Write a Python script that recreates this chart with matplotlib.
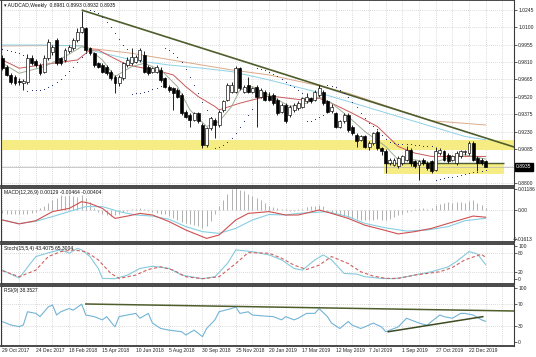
import numpy as np
import matplotlib.pyplot as plt
from matplotlib.transforms import blended_transform_factory, ScaledTranslation

plt.rcParams['font.family'] = ['Liberation Sans', 'DejaVu Sans']

# ---- weekly AUDCAD candles, 29 Oct 2017 .. Jan 2020
opens = [0.9842,0.9772,0.9703,0.9689,0.9655,0.9635,0.9647,0.9842,0.9820,0.9786,
         0.9730,0.9842,0.9895,0.9995,0.9842,0.9828,0.9900,0.9925,0.9995,1.0064,
         1.0092,0.9925,0.9884,0.9800,0.9786,0.9772,0.9731,0.9689,0.9633,0.9675,
         0.9786,0.9800,0.9814,0.9828,0.9870,0.9772,0.9731,0.9731,0.9745,0.9675,
         0.9606,0.9592,0.9578,0.9536,0.9397,0.9369,0.9328,0.9383,0.9286,0.9119,
         0.9258,0.9328,0.9286,0.9411,0.9494,0.9564,0.9564,0.9759,0.9564,0.9620,
         0.9564,0.9606,0.9522,0.9564,0.9530,0.9536,0.9494,0.9397,0.9453,0.9369,
         0.9411,0.9425,0.9439,0.9481,0.9508,0.9494,0.9536,0.9564,0.9481,0.9400,
         0.9383,0.9272,0.9314,0.9369,0.9272,0.9203,0.9161,0.9189,0.9105,0.9133,
         0.9230,0.9091,0.9064,0.8966,0.8952,0.8938,0.8966,0.8994,0.9077,0.8980,
         0.8952,0.8994,0.8966,0.8980,0.8911,0.9050,0.9064,0.9036,0.8994,0.8966,
         0.9022,0.9055,0.9050,0.9133,0.9008,0.8994,0.8981]
highs = [0.9870,0.9790,0.9717,0.9700,0.9680,0.9670,0.9880,0.9870,0.9840,0.9800,
         0.9870,1.0000,0.9950,1.0010,0.9856,0.9925,0.9950,1.0010,1.0092,1.0240,
         1.0106,0.9939,0.9898,0.9814,0.9800,0.9786,0.9745,0.9703,0.9703,0.9814,
         0.9856,0.9925,0.9870,0.9925,0.9900,0.9786,0.9772,0.9786,0.9772,0.9689,
         0.9620,0.9606,0.9592,0.9550,0.9411,0.9383,0.9397,0.9397,0.9300,0.9272,
         0.9355,0.9342,0.9411,0.9494,0.9633,0.9647,0.9775,0.9772,0.9620,0.9689,
         0.9606,0.9620,0.9592,0.9578,0.9564,0.9550,0.9508,0.9467,0.9467,0.9453,
         0.9467,0.9481,0.9522,0.9550,0.9522,0.9578,0.9620,0.9578,0.9494,0.9460,
         0.9397,0.9328,0.9383,0.9383,0.9286,0.9216,0.9203,0.9203,0.9147,0.9230,
         0.9240,0.9105,0.9080,0.9008,0.9008,0.9022,0.9036,0.9110,0.9091,0.8994,
         0.8994,0.9008,0.8980,0.8994,0.9105,0.9091,0.9077,0.9050,0.9036,0.9064,
         0.9077,0.9077,0.9147,0.9147,0.9022,0.9008,0.8993]
lows = [0.9745,0.9690,0.9630,0.9620,0.9615,0.9578,0.9630,0.9790,0.9770,0.9705,
        0.9717,0.9828,0.9870,0.9790,0.9786,0.9814,0.9884,0.9911,0.9981,1.0050,
        0.9898,0.9870,0.9772,0.9759,0.9717,0.9703,0.9661,0.9550,0.9610,0.9661,
        0.9772,0.9786,0.9800,0.9814,0.9717,0.9703,0.9717,0.9717,0.9647,0.9592,
        0.9564,0.9411,0.9508,0.9369,0.9342,0.9272,0.9314,0.9300,0.9091,0.9105,
        0.9244,0.9175,0.9272,0.9397,0.9481,0.9550,0.9550,0.9578,0.9550,0.9550,
        0.9550,0.9272,0.9508,0.9481,0.9481,0.9453,0.9369,0.9383,0.9300,0.9355,
        0.9397,0.9411,0.9425,0.9467,0.9467,0.9481,0.9522,0.9453,0.9383,0.9383,
        0.9258,0.9258,0.9300,0.9230,0.9203,0.9105,0.9147,0.9091,0.9077,0.9119,
        0.9077,0.9036,0.8883,0.8952,0.8938,0.8925,0.8952,0.8980,0.8938,0.8925,
        0.8827,0.8952,0.8911,0.8883,0.8897,0.9036,0.8980,0.8966,0.8980,0.8952,
        0.9008,0.9036,0.9036,0.8980,0.8900,0.8952,0.8932]
closes = [0.9759,0.9703,0.9647,0.9633,0.9640,0.9650,0.9842,0.9800,0.9786,0.9720,
          0.9842,0.9981,0.9935,0.9800,0.9800,0.9911,0.9935,0.9995,1.0064,1.0106,
          0.9911,0.9884,0.9786,0.9772,0.9731,0.9717,0.9675,0.9633,0.9689,0.9800,
          0.9828,0.9856,0.9856,0.9911,0.9731,0.9717,0.9759,0.9772,0.9661,0.9606,
          0.9578,0.9550,0.9522,0.9383,0.9355,0.9328,0.9383,0.9314,0.9119,0.9258,
          0.9342,0.9286,0.9397,0.9481,0.9620,0.9620,0.9759,0.9592,0.9606,0.9564,
          0.9592,0.9522,0.9578,0.9494,0.9494,0.9467,0.9383,0.9453,0.9314,0.9439,
          0.9453,0.9467,0.9508,0.9522,0.9481,0.9564,0.9592,0.9467,0.9397,0.9439,
          0.9272,0.9314,0.9369,0.9244,0.9216,0.9147,0.9189,0.9105,0.9133,0.9216,
          0.9091,0.9064,0.8966,0.8994,0.8994,0.9008,0.9022,0.9077,0.8966,0.8938,
          0.8980,0.8966,0.8925,0.8897,0.9064,0.9077,0.8994,0.8980,0.9022,0.9050,
          0.9064,0.9068,0.9133,0.8994,0.8966,0.8966,0.8935]

# parabolic SAR, one dot per bar
sar = [0.9917,0.9911,0.9903,0.9895,0.9884,0.9872,
       0.9572,0.9575,0.9578,0.9581,0.9586,0.9600,0.9620,0.9645,0.9672,0.9700,0.9733,0.9772,0.9811,0.9856,0.9889,
       1.0245,1.0237,1.0217,1.0184,1.0145,1.0100,1.0050,1.0000,0.9956,0.9917,
       0.9547,0.9550,0.9556,0.9564,0.9572,0.9583,0.9594,0.9608,
       0.9925,0.9911,0.9889,0.9856,0.9811,0.9750,0.9683,0.9617,0.9550,0.9478,0.9411,0.9355,
       0.9091,0.9100,0.9116,0.9139,0.9175,0.9216,0.9272,0.9322,0.9369,0.9417,
       0.9761,0.9756,0.9745,0.9731,0.9714,0.9695,0.9672,0.9647,0.9622,0.9600,0.9578,0.9556,
       0.9314,0.9322,0.9333,0.9350,0.9367,
       0.9620,0.9614,0.9600,0.9578,0.9550,0.9517,0.9478,0.9433,0.9389,0.9344,0.9300,0.9275,
       0.9250,0.9205,0.9170,0.9144,0.9136,0.9130,0.9127,0.9125,0.9122,0.9119,0.9116,0.9113,0.9111,0.9108,
       0.8827,0.8833,0.8840,0.8847,0.8854,0.8861,0.8868,0.8875,0.8882,0.8888,0.8894,0.8900,0.8906]

# moving averages (sampled)
ma_slow_x = [0, 10, 19, 21, 31, 43, 55, 64, 75, 83, 95, 103, 116]
ma_slow_y = [0.9945, 0.9948, 0.9948, 0.9925, 0.9884, 0.9814, 0.9745, 0.9703, 0.9620, 0.9550, 0.9411, 0.9320, 0.9285]
ma_cyan_x = [0, 10, 19, 21, 26, 31, 40, 48, 55, 64, 75, 87, 99, 111, 116]
ma_cyan_y = [0.9953, 0.9953, 0.9945, 0.9911, 0.9870, 0.9828, 0.9786, 0.9759, 0.9731, 0.9661, 0.9564, 0.9439, 0.9314, 0.9189, 0.9161]
ma_red_x = [0, 4, 11, 18, 21, 23, 26, 30, 34, 38, 41, 44, 47, 51, 52, 57, 60, 64, 72, 76, 79, 84, 90, 95, 99, 103, 107, 116]
ma_red_y = [0.9828, 0.9759, 0.9795, 0.9828, 0.9911, 0.9911, 0.9856, 0.9786, 0.9759, 0.9731, 0.9703, 0.9606, 0.9522,
            0.9439, 0.9411, 0.9467, 0.9494, 0.9528, 0.9494, 0.9508, 0.9467, 0.9383, 0.9272, 0.9105, 0.9050, 0.9022, 0.9022, 0.9022]
ma_fast_x = [0, 4, 10, 15, 19, 21, 24, 27, 31, 34, 38, 42, 45, 49, 52, 55, 57, 60, 64, 69, 73, 76, 79, 83, 87, 92, 95, 99, 103, 107, 111, 116]
ma_fast_y = [0.9800, 0.9717, 0.9772, 0.9856, 0.9939, 0.9911, 0.9828, 0.9689, 0.9772, 0.9800, 0.9745, 0.9606, 0.9411, 0.9272,
             0.9314, 0.9439, 0.9578, 0.9606, 0.9536, 0.9439, 0.9467, 0.9522, 0.9467, 0.9355, 0.9230, 0.9105, 0.8994, 0.8994,
             0.8966, 0.9008, 0.9036, 0.9000]

# drawn objects on the price chart
trend_x = [19, 122.8]
trend_y = [1.0245, 0.9101]
band_hi = (0.9076, 0.9160)
band_lo = (0.8872, 0.8955)
band_lo_x = (91.6, 120.4)
support_y = 0.8965
last_price = 0.8935

# MACD(12,26,9)
macd_hist = [-1.5, -2, -2, -2.5, -2.5, -2, -2, -1.5, -1,
             1.0, 2.5, 4.0, 5.5, 7.0, 8.5, 8.0, 8.5, 8.0, 7.5, 8.5, 7.0, 4.5,
             1.0, -1.0, -2.0, -3.0, -3.5, -3.0, -2.0,
             -1.0, -0.5, 0.5, 0.8, 1.0, 0.5, -0.5, -1.0, -1.5,
             -2.0, -2.5, -3.5, -4.5, -5.5, -6.5, -7.5, -8.0, -8.5, -9.0, -10.0, -9.0, -6.0, -2.5,
             2.0, 5.5, 9.0, 12.0, 13.0, 11.0, 10.5, 9.0, 8.0, 7.0, 5.5, 4.0,
             2.5, 1.5, 1.0, 0.5, 0.3, -0.3, -0.5, 0.3, 0.8, 1.5, 2.0,
             2.5, 3.0, 2.0,
             -0.5, -1.5, -2.5, -3.0, -3.5, -4.0, -4.5, -5.0, -5.5, -5.5, -5.5, -5.5, -5.0, -5.5, -5.5, -5.0, -4.0, -3.0,
             -2.0, -1.0, -0.5, 0.5, 0.5, 1.0, 0.8, 1.0,
             3.0, 3.5, 4.0, 4.5, 4.0, 4.5, 4.5, 4.0, 5.0, 5.5, 4.0, 3.0, 1.3]  # x 0.001
macd_red_x = [0, 4, 8, 12, 16, 19, 21, 24, 27, 30, 33, 36, 40, 44, 49, 52, 56, 59, 64, 68, 71, 76, 79, 83, 87, 92, 95, 99, 103, 107, 113, 116]
macd_red_y = [-0.0056, -0.0078, -0.0060, -0.0009, 0.0009, 0.0047, 0.0037, 0.0009, -0.0047, -0.0034, -0.0019, -0.0028,
              -0.0065, -0.0112, -0.0159, -0.0140, -0.0056, -0.0019, -0.0009, -0.0028, -0.0028, 0.0000, -0.0019, -0.0047,
              -0.0085, -0.0115, -0.0134, -0.0121, -0.0103, -0.0075, -0.0034, -0.00404]
macd_cyan_x = [0, 4, 8, 12, 16, 20, 24, 28, 32, 36, 40, 44, 48, 52, 56, 60, 64, 68, 71, 78, 83, 87, 92, 97, 102, 107, 111, 116]
macd_cyan_y = [-0.0056, -0.0076, -0.0063, -0.0037, -0.0009, 0.0019, 0.0019, -0.0009, -0.0028, -0.0034, -0.0052, -0.0093,
               -0.0121, -0.0131, -0.0103, -0.0056, -0.0025, -0.0028, -0.0019, -0.0009, -0.0037, -0.0075, -0.0100, -0.0118,
               -0.0112, -0.0093, -0.0060, -0.00464]

# Stoch(15,5,4)
stoch_main_x = [0, 4, 8, 12, 14, 16, 18, 19, 21, 23, 24, 27, 30, 33, 36, 40, 43, 48, 51, 54, 56, 60, 64, 67, 70, 72, 75,
                77, 79, 82, 85, 87, 91, 94, 97, 100, 103, 107, 109, 112, 114, 116]
stoch_main_y = [27, 3, 68, 83, 88, 78, 93, 88, 68, 32, 2, 1, 12, 32, 39, 32, 12, 1, 7, 47, 88, 83, 73, 58, 32, 27, 58,
                73, 58, 17, 15, 7, 2, 1, 7, 15, 22, 37, 53, 83, 76, 43.4]
stoch_sig_x = [0, 4, 8, 11, 14, 17, 20, 23, 26, 28, 32, 35, 38, 41, 44, 48, 52, 56, 59, 64, 67, 70, 73, 76, 79, 83, 86,
               89, 92, 95, 99, 102, 105, 108, 111, 115, 116]
stoch_sig_y = [25, 7, 27, 68, 83, 88, 83, 58, 17, 2, 12, 29, 37, 27, 7, 1, 7, 47, 80, 78, 63, 42, 29, 42, 68, 47, 22,
               9, 2, 2, 12, 17, 22, 35, 58, 75, 65.3]

# RSI(9)
rsi_x = [0, 2, 4, 5, 6, 8, 9, 11, 12, 13, 14, 16, 17, 19, 20, 22, 24, 25, 27, 28, 30, 32, 33, 35, 36, 38, 40, 43, 44,
         46, 48, 49, 51, 52, 55, 56, 57, 59, 60, 63, 65, 67, 68, 70, 71, 73, 75, 76, 78, 79, 81, 83, 84, 86, 87, 89,
         91, 92, 94, 95, 97, 99, 100, 102, 103, 105, 106, 108, 110, 111, 113, 115, 116]
rsi_y = [37.7, 31.5, 28.4, 31.5, 56, 53, 47, 65, 68.5, 50, 56, 62, 59, 70, 50, 47, 41, 47, 28, 47, 50, 53, 44, 53, 35,
         25, 22, 19, 13, 22, 10, 25, 41, 56, 62, 65, 53, 56, 50, 48, 47, 41, 47, 41, 44, 53, 53, 62, 47, 35, 25, 38, 31,
         25, 28, 35, 28, 19, 25, 28, 44, 38, 35, 31, 38, 50, 47, 44, 53, 53, 50, 41, 38.35]
rsi_top_x = [20, 122.8]
rsi_top_y = [70.4, 57.4]
rsi_low_x = [92.6, 115.3]
rsi_low_y = [19, 46.9]

date_labels = ["29 Oct 2017", "24 Dec 2017", "18 Feb 2018", "15 Apr 2018", "10 Jun 2018", "5 Aug 2018",
               "30 Sep 2018", "25 Nov 2018", "20 Jan 2019", "17 Mar 2019", "12 May 2019", "7 Jul 2019",
               "1 Sep 2019", "27 Oct 2019", "22 Dec 2019"]
price_ticks = ["1.0245", "1.0100", "0.9955", "0.9810", "0.9665", "0.9520", "0.9375", "0.9230", "0.9085", "0.8800"]

# ---- figure
W, H = 536, 357
fig = plt.figure(figsize=(W / 100, H / 100), dpi=100)
fs = 3.6
grid_kw = dict(color='#b8b8b8', lw=0.5, ls=(0, (1, 2)))
xmin, xmax = -0.48, 122.8


def panel(y0, y1):
    ax = fig.add_axes([0.5 / W, 1 - y1 / H, 513.5 / W, (y1 - y0) / H])
    ax.set_xlim(xmin, xmax)
    for s in ax.spines.values():
        s.set_color('#3a3a3a')
        s.set_linewidth(0.8)
    ax.spines['top'].set_linewidth(1.3)
    ax.spines['bottom'].set_linewidth(1.3)
    ax.yaxis.tick_right()
    ax.tick_params(axis='y', length=2, width=0.5, pad=1.0, labelsize=fs, colors='#222222')
    ax.tick_params(axis='x', length=0, labelbottom=False)
    for gx in range(0, 123, 4):
        ax.axvline(gx, zorder=0, **grid_kw)
    return ax


n = len(closes)
idx = np.arange(n)
o, h, l, c = map(np.array, (opens, highs, lows, closes))

# main price chart
ax = panel(0, 186)
ax.set_ylim(0.8775, 1.0329)
tick_vals = [float(t) for t in price_ticks]
for ty in tick_vals + [0.8940]:
    ax.axhline(ty, zorder=0, **grid_kw)
ax.set_yticks(tick_vals)
ax.set_yticklabels(price_ticks)
ax.axhspan(*band_hi, color='#f5ec84', zorder=0.5, lw=0)
ax.fill_between(band_lo_x, band_lo[0], band_lo[1], color='#f5ec84', zorder=0.5, lw=0)
ax.hlines(support_y, *band_lo_x, color='#4e5d2c', lw=1.0, zorder=3)
ax.axhline(last_price, color='#b5b5b5', lw=0.5, zorder=0.6)

ax.plot(ma_slow_x, ma_slow_y, color='#dba98a', lw=0.7, zorder=2)
ax.plot(ma_cyan_x, ma_cyan_y, color='#8fd2e6', lw=0.7, zorder=2)
ax.plot(ma_red_x, ma_red_y, color='#c95a5a', lw=0.7, zorder=2)
ax.plot(ma_fast_x, ma_fast_y, color='#9fae95', lw=0.7, zorder=2)

up = c >= o
ax.vlines(idx, l, h, color='black', lw=0.6, zorder=4)
ax.bar(idx, np.maximum(np.abs(c - o), 0.0003), bottom=np.minimum(o, c), width=0.7,
       color=np.where(up, 'white', 'black'), edgecolor='black', linewidth=0.45, zorder=5)
ax.scatter(idx, sar, s=0.5, color='#1d2a6e', zorder=6, linewidths=0)
ax.plot(trend_x, trend_y, color='#4e5d2c', lw=1.2, zorder=3, solid_capstyle='butt')

tr = blended_transform_factory(ax.transAxes, ax.transData)
ax.text(1.004, last_price, f"{last_price:.4f}", transform=tr, ha='left', va='center', fontsize=fs,
        color='white', clip_on=False, bbox=dict(boxstyle='square,pad=0.25', fc='black', ec='black'))
ax.text(0.006, 0.985, "\u25be AUDCAD,Weekly  0.8981 0.8993 0.8932 0.8935", transform=ax.transAxes,
        ha='left', va='top', fontsize=fs, color='#111111')

# MACD
axm = panel(188, 242)
axm.set_ylim(-0.01792, 0.01232)
axm.axhline(0, zorder=0, **grid_kw)
axm.vlines(idx, 0, np.array(macd_hist) * 0.001, color='#a5a5a5', lw=0.6, zorder=1)
axm.plot(macd_cyan_x, macd_cyan_y, color='#86cfe3', lw=0.8, zorder=2)
axm.plot(macd_red_x, macd_red_y, color='#d05050', lw=0.8, zorder=3)
axm.set_yticks([0.01186, 0.0, -0.01613])
axm.set_yticklabels(["0.01186", "0.00", "-0.01613"])
# the bottom label sits partly over the axis line, as in the platform
lbl = axm.get_yticklabels()[-1]
lbl.set_transform(lbl.get_transform() + ScaledTranslation(-5 / 100, 0, fig.dpi_scale_trans))
axm.text(0.006, 0.96, "MACD(12,26,9) 0.00129 -0.00464 -0.00404", transform=axm.transAxes,
         ha='left', va='top', fontsize=fs, color='#111111')

# Stochastic
axs = panel(244, 284)
axs.set_ylim(-15, 106)
for lv in (80, 20):
    axs.axhline(lv, zorder=0, **grid_kw)
axs.plot(stoch_main_x, stoch_main_y, color='#86cadb', lw=0.8, zorder=2)
axs.plot(stoch_sig_x, stoch_sig_y, color='#d06060', lw=0.8, ls=(0, (3, 2)), zorder=3)
axs.set_yticks([100, 80, 20, 0])
axs.set_yticklabels(["100", "80", "20", "0"])
axs.text(0.006, 0.95, "Stoch(15,5,4) 43.4075 65.3004", transform=axs.transAxes,
         ha='left', va='top', fontsize=fs, color='#111111')

# RSI
axr = panel(286, 346)
axr.set_ylim(-7.4, 103.7)
for lv in (70, 30):
    axr.axhline(lv, zorder=0, **grid_kw)
axr.plot(rsi_x, rsi_y, color='#72b4d6', lw=0.8, zorder=2)
axr.plot(rsi_top_x, rsi_top_y, color='#4e5d2c', lw=1.1, zorder=3)
axr.plot(rsi_low_x, rsi_low_y, color='#3d4a22', lw=1.1, zorder=3)
axr.set_yticks([100, 70, 30, 0])
axr.set_yticklabels(["100", "70", "30", "0"])
axr.text(0.006, 0.97, "RSI(9) 38.3527", transform=axr.transAxes,
         ha='left', va='top', fontsize=fs, color='#111111')
axr.set_xticks(np.arange(0, 8 * len(date_labels), 8))
axr.set_xticklabels(date_labels)
axr.tick_params(axis='x', labelbottom=True, labelsize=fs, pad=1.5, colors='#222222')
for t in axr.get_xticklabels():
    t.set_horizontalalignment('left')

fig.savefig("out.png", dpi=100, facecolor='white')
